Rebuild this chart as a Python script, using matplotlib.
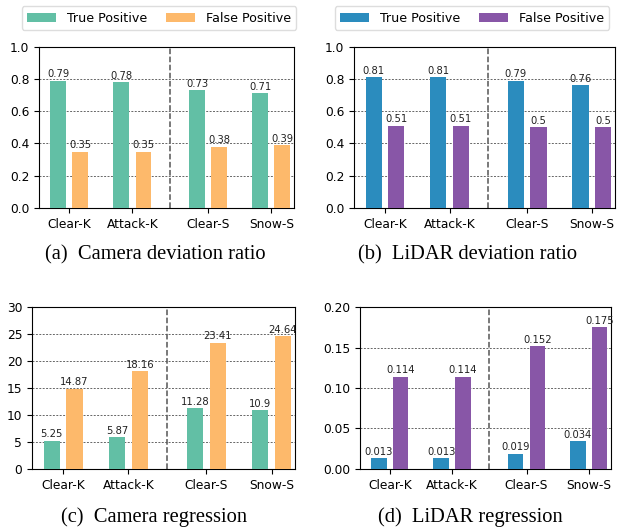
import matplotlib
matplotlib.use('Agg')
from matplotlib import pyplot as plt
import numpy as np

# data
groups = ['Clear-K', 'Attack-K', 'Clear-S', 'Snow-S']
positions = [0, 1, 2.2, 3.2]

cam_dev_tp = [0.79, 0.78, 0.73, 0.71]
cam_dev_fp = [0.35, 0.35, 0.38, 0.39]
lidar_dev_tp = [0.81, 0.81, 0.79, 0.76]
lidar_dev_fp = [0.51, 0.51, 0.5, 0.5]
cam_reg_tp = [5.25, 5.87, 11.28, 10.9]
cam_reg_fp = [14.87, 18.16, 23.41, 24.64]
lidar_reg_tp = [0.013, 0.013, 0.019, 0.034]
lidar_reg_fp = [0.114, 0.114, 0.152, 0.175]

legend_labels = ['True Positive', 'False Positive']
cam_colors = ['#62bfa5', '#fdb96b']
lidar_colors = ['#2b8cbe', '#8856a7']

captions = ['(a)  Camera deviation ratio', '(b)  LiDAR deviation ratio',
            '(c)  Camera regression', '(d)  LiDAR regression']


def draw(ax, tp, fp, colors, yticks, ylim):
    x = np.array(positions)
    w = 0.25
    off = 0.175
    b1 = ax.bar(x - off, tp, w, color=colors[0], label=legend_labels[0], zorder=3)
    b2 = ax.bar(x + off, fp, w, color=colors[1], label=legend_labels[1], zorder=3)
    for bars, vals in [(b1, tp), (b2, fp)]:
        for b, v in zip(bars, vals):
            ax.annotate(str(v), (b.get_x() + b.get_width() / 2, b.get_height()),
                        xytext=(0, 1), textcoords='offset points',
                        ha='center', va='bottom', fontsize=7.2, color='#222222')
    ax.axvline((positions[1] + positions[2]) / 2, color='#555555',
               linestyle='--', linewidth=1.1, zorder=2)
    ax.set_xticks(positions)
    ax.set_xticklabels(groups, fontsize=8.8)
    ax.set_yticks(yticks)
    ax.tick_params(axis='y', labelsize=8.8)
    ax.set_ylim(ylim)
    ax.set_xlim(-0.48, 3.56)
    ax.yaxis.grid(True, linestyle=(0, (2, 1.5)), color='#666666', linewidth=0.7)
    ax.set_axisbelow(True)
    return b1, b2


fig = plt.figure(figsize=(6.27, 5.31), dpi=100)

ax_a = fig.add_axes([0.0622, 0.6083, 0.4067, 0.3038])
ax_b = fig.add_axes([0.5646, 0.6083, 0.4163, 0.3038])
ax_c = fig.add_axes([0.0510, 0.1168, 0.4195, 0.3050])
ax_d = fig.add_axes([0.5742, 0.1168, 0.4003, 0.3050])

ha = draw(ax_a, cam_dev_tp, cam_dev_fp, cam_colors, np.arange(0, 1.01, 0.2), (0, 1.0))
hb = draw(ax_b, lidar_dev_tp, lidar_dev_fp, lidar_colors, np.arange(0, 1.01, 0.2), (0, 1.0))
draw(ax_c, cam_reg_tp, cam_reg_fp, cam_colors, np.arange(0, 31, 5), (0, 30))
draw(ax_d, lidar_reg_tp, lidar_reg_fp, lidar_colors, np.arange(0, 0.201, 0.05), (0, 0.2))

ax_a.yaxis.set_major_formatter(matplotlib.ticker.FormatStrFormatter('%.1f'))
ax_b.yaxis.set_major_formatter(matplotlib.ticker.FormatStrFormatter('%.1f'))
ax_d.yaxis.set_major_formatter(matplotlib.ticker.FormatStrFormatter('%.2f'))

fig.legend(ha, legend_labels, loc='center', bbox_to_anchor=(159 / 627, 0.966),
           ncol=2, fontsize=9.1, handlelength=2.3, handletextpad=0.9,
           columnspacing=1.45, framealpha=1, edgecolor='#dddddd')
fig.legend(hb, legend_labels, loc='center', bbox_to_anchor=(472 / 627, 0.966),
           ncol=2, fontsize=9.1, handlelength=2.3, handletextpad=0.9,
           columnspacing=1.45, framealpha=1, edgecolor='#dddddd')

cap_pos = [(155, 255), (468, 255), (154, 517), (470, 517)]
for cap, (cx, cy) in zip(captions, cap_pos):
    fig.text(cx / 627, 1 - cy / 531, cap, ha='center', va='center',
             fontsize=14.8, family='Liberation Serif')

fig.savefig('out.png', dpi=100)
